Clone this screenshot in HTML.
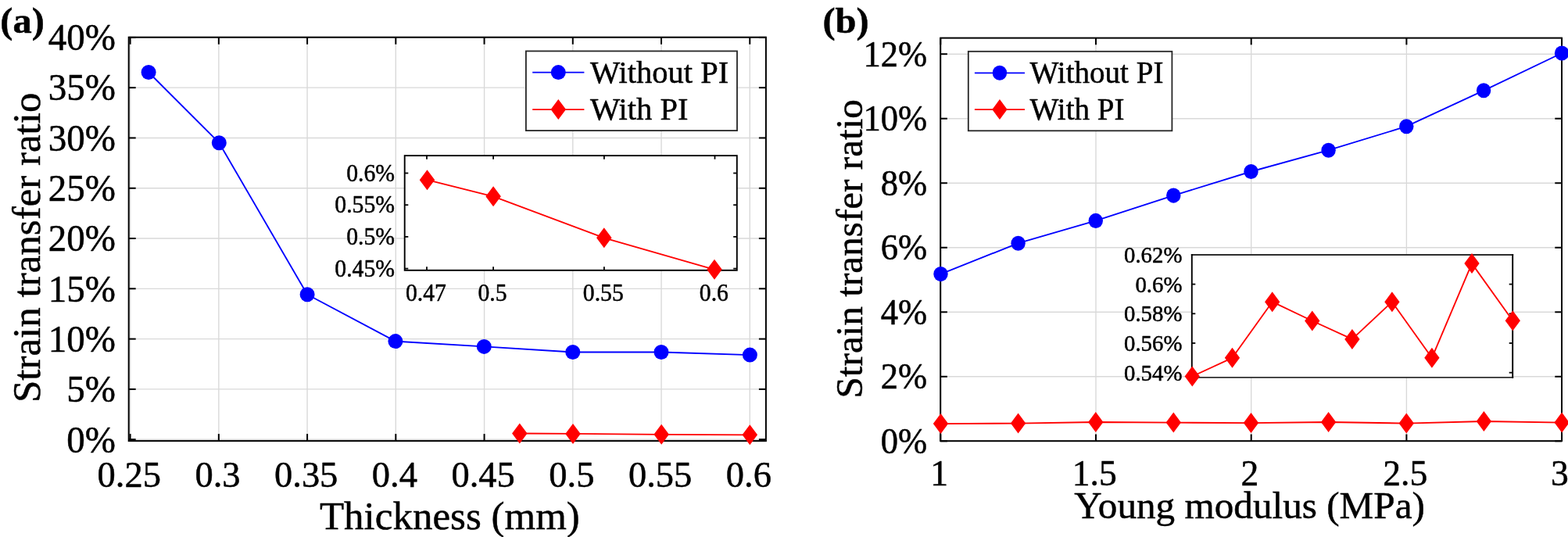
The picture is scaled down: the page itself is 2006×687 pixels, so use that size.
<!DOCTYPE html>
<html lang="en">
<head>
<meta charset="utf-8">
<title>Strain transfer ratio: thickness and Young modulus</title>
<style>
html, body { margin: 0; padding: 0; background: #ffffff; }
body { width: 2006px; height: 687px; overflow: hidden; }
svg { display: block; }
svg text { font-family: "Liberation Serif", "DejaVu Serif", serif; fill: #000000; stroke: #000000; stroke-width: 0.5px; stroke-linejoin: round; font-kerning: normal; }
</style>
</head>
<body>
<svg width="2006" height="687" viewBox="0 0 2006 687">
<rect x="0" y="0" width="2006" height="687" fill="#ffffff"/>
<g id="panel-a">
<g class="grid">
<line x1="166.6" y1="47.7" x2="166.6" y2="564.1" stroke="#d9d9d9" stroke-width="1.4"/>
<line x1="279.84" y1="47.7" x2="279.84" y2="564.1" stroke="#d9d9d9" stroke-width="1.4"/>
<line x1="393.08" y1="47.7" x2="393.08" y2="564.1" stroke="#d9d9d9" stroke-width="1.4"/>
<line x1="506.32" y1="47.7" x2="506.32" y2="564.1" stroke="#d9d9d9" stroke-width="1.4"/>
<line x1="619.56" y1="47.7" x2="619.56" y2="564.1" stroke="#d9d9d9" stroke-width="1.4"/>
<line x1="732.8" y1="47.7" x2="732.8" y2="564.1" stroke="#d9d9d9" stroke-width="1.4"/>
<line x1="846.04" y1="47.7" x2="846.04" y2="564.1" stroke="#d9d9d9" stroke-width="1.4"/>
<line x1="959.28" y1="47.7" x2="959.28" y2="564.1" stroke="#d9d9d9" stroke-width="1.4"/>
<line x1="164.7" y1="562.2" x2="979.9" y2="562.2" stroke="#d9d9d9" stroke-width="1.4"/>
<line x1="164.7" y1="497.91" x2="979.9" y2="497.91" stroke="#d9d9d9" stroke-width="1.4"/>
<line x1="164.7" y1="433.62" x2="979.9" y2="433.62" stroke="#d9d9d9" stroke-width="1.4"/>
<line x1="164.7" y1="369.33" x2="979.9" y2="369.33" stroke="#d9d9d9" stroke-width="1.4"/>
<line x1="164.7" y1="305.04" x2="979.9" y2="305.04" stroke="#d9d9d9" stroke-width="1.4"/>
<line x1="164.7" y1="240.75" x2="979.9" y2="240.75" stroke="#d9d9d9" stroke-width="1.4"/>
<line x1="164.7" y1="176.46" x2="979.9" y2="176.46" stroke="#d9d9d9" stroke-width="1.4"/>
<line x1="164.7" y1="112.17" x2="979.9" y2="112.17" stroke="#d9d9d9" stroke-width="1.4"/>
<line x1="164.7" y1="47.88" x2="979.9" y2="47.88" stroke="#d9d9d9" stroke-width="1.4"/>
</g>
<g class="ticks">
<line x1="166.6" y1="564.1" x2="166.6" y2="555.1" stroke="#000" stroke-width="2"/>
<line x1="166.6" y1="47.7" x2="166.6" y2="56.7" stroke="#000" stroke-width="2"/>
<line x1="279.84" y1="564.1" x2="279.84" y2="555.1" stroke="#000" stroke-width="2"/>
<line x1="279.84" y1="47.7" x2="279.84" y2="56.7" stroke="#000" stroke-width="2"/>
<line x1="393.08" y1="564.1" x2="393.08" y2="555.1" stroke="#000" stroke-width="2"/>
<line x1="393.08" y1="47.7" x2="393.08" y2="56.7" stroke="#000" stroke-width="2"/>
<line x1="506.32" y1="564.1" x2="506.32" y2="555.1" stroke="#000" stroke-width="2"/>
<line x1="506.32" y1="47.7" x2="506.32" y2="56.7" stroke="#000" stroke-width="2"/>
<line x1="619.56" y1="564.1" x2="619.56" y2="555.1" stroke="#000" stroke-width="2"/>
<line x1="619.56" y1="47.7" x2="619.56" y2="56.7" stroke="#000" stroke-width="2"/>
<line x1="732.8" y1="564.1" x2="732.8" y2="555.1" stroke="#000" stroke-width="2"/>
<line x1="732.8" y1="47.7" x2="732.8" y2="56.7" stroke="#000" stroke-width="2"/>
<line x1="846.04" y1="564.1" x2="846.04" y2="555.1" stroke="#000" stroke-width="2"/>
<line x1="846.04" y1="47.7" x2="846.04" y2="56.7" stroke="#000" stroke-width="2"/>
<line x1="959.28" y1="564.1" x2="959.28" y2="555.1" stroke="#000" stroke-width="2"/>
<line x1="959.28" y1="47.7" x2="959.28" y2="56.7" stroke="#000" stroke-width="2"/>
<line x1="164.7" y1="562.2" x2="173.7" y2="562.2" stroke="#000" stroke-width="2"/>
<line x1="979.9" y1="562.2" x2="970.9" y2="562.2" stroke="#000" stroke-width="2"/>
<line x1="164.7" y1="497.91" x2="173.7" y2="497.91" stroke="#000" stroke-width="2"/>
<line x1="979.9" y1="497.91" x2="970.9" y2="497.91" stroke="#000" stroke-width="2"/>
<line x1="164.7" y1="433.62" x2="173.7" y2="433.62" stroke="#000" stroke-width="2"/>
<line x1="979.9" y1="433.62" x2="970.9" y2="433.62" stroke="#000" stroke-width="2"/>
<line x1="164.7" y1="369.33" x2="173.7" y2="369.33" stroke="#000" stroke-width="2"/>
<line x1="979.9" y1="369.33" x2="970.9" y2="369.33" stroke="#000" stroke-width="2"/>
<line x1="164.7" y1="305.04" x2="173.7" y2="305.04" stroke="#000" stroke-width="2"/>
<line x1="979.9" y1="305.04" x2="970.9" y2="305.04" stroke="#000" stroke-width="2"/>
<line x1="164.7" y1="240.75" x2="173.7" y2="240.75" stroke="#000" stroke-width="2"/>
<line x1="979.9" y1="240.75" x2="970.9" y2="240.75" stroke="#000" stroke-width="2"/>
<line x1="164.7" y1="176.46" x2="173.7" y2="176.46" stroke="#000" stroke-width="2"/>
<line x1="979.9" y1="176.46" x2="970.9" y2="176.46" stroke="#000" stroke-width="2"/>
<line x1="164.7" y1="112.17" x2="173.7" y2="112.17" stroke="#000" stroke-width="2"/>
<line x1="979.9" y1="112.17" x2="970.9" y2="112.17" stroke="#000" stroke-width="2"/>
<line x1="164.7" y1="47.88" x2="173.7" y2="47.88" stroke="#000" stroke-width="2"/>
<line x1="979.9" y1="47.88" x2="970.9" y2="47.88" stroke="#000" stroke-width="2"/>
</g>
<rect x="164.7" y="47.7" width="815.2" height="516.4" fill="none" stroke="#000" stroke-width="2"/>
<g class="series">
<polyline points="190.1,92.5 280.3,182.7 393.1,376.7 505.9,436.6 619.3,443.4 732.8,450.5 846,450.5 959.4,454.1" fill="none" stroke="#0000ff" stroke-width="1.85" stroke-linejoin="round"/>
<ellipse cx="190.1" cy="92.5" rx="9.5" ry="9.5" fill="#0000ff"/>
<ellipse cx="280.3" cy="182.7" rx="9.5" ry="9.5" fill="#0000ff"/>
<ellipse cx="393.1" cy="376.7" rx="9.5" ry="9.5" fill="#0000ff"/>
<ellipse cx="505.9" cy="436.6" rx="9.5" ry="9.5" fill="#0000ff"/>
<ellipse cx="619.3" cy="443.4" rx="9.5" ry="9.5" fill="#0000ff"/>
<ellipse cx="732.8" cy="450.5" rx="9.5" ry="9.5" fill="#0000ff"/>
<ellipse cx="846" cy="450.5" rx="9.5" ry="9.5" fill="#0000ff"/>
<ellipse cx="959.4" cy="454.1" rx="9.5" ry="9.5" fill="#0000ff"/>
<polyline points="664.8,554.5 733,554.9 846.2,555.8 959.3,556.3" fill="none" stroke="#ff0000" stroke-width="1.85" stroke-linejoin="round"/>
<polygon points="664.8,541.5 674.55,554.5 664.8,567.5 655.05,554.5" fill="#ff0000"/>
<polygon points="733,541.9 742.75,554.9 733,567.9 723.25,554.9" fill="#ff0000"/>
<polygon points="846.2,542.8 855.95,555.8 846.2,568.8 836.45,555.8" fill="#ff0000"/>
<polygon points="959.3,543.3 969.05,556.3 959.3,569.3 949.55,556.3" fill="#ff0000"/>
</g>
<g class="ticklabels">
<text transform="translate(165.2 623) scale(1 1.02)" font-size="46.5" text-anchor="middle" font-weight="normal" stroke-width="0.49">0.25</text>
<text transform="translate(278.44 623) scale(1 1.02)" font-size="46.5" text-anchor="middle" font-weight="normal" stroke-width="0.49">0.3</text>
<text transform="translate(391.68 623) scale(1 1.02)" font-size="46.5" text-anchor="middle" font-weight="normal" stroke-width="0.49">0.35</text>
<text transform="translate(504.92 623) scale(1 1.02)" font-size="46.5" text-anchor="middle" font-weight="normal" stroke-width="0.49">0.4</text>
<text transform="translate(618.16 623) scale(1 1.02)" font-size="46.5" text-anchor="middle" font-weight="normal" stroke-width="0.49">0.45</text>
<text transform="translate(731.4 623) scale(1 1.02)" font-size="46.5" text-anchor="middle" font-weight="normal" stroke-width="0.49">0.5</text>
<text transform="translate(844.64 623) scale(1 1.02)" font-size="46.5" text-anchor="middle" font-weight="normal" stroke-width="0.49">0.55</text>
<text transform="translate(957.88 623) scale(1 1.02)" font-size="46.5" text-anchor="middle" font-weight="normal" stroke-width="0.49">0.6</text>
<text transform="translate(148 578.7) scale(1 1.03)" font-size="47" text-anchor="end" font-weight="normal" stroke-width="0.49">0%</text>
<text transform="translate(148 514.35) scale(1 1.03)" font-size="47" text-anchor="end" font-weight="normal" stroke-width="0.49">5%</text>
<text transform="translate(148 450) scale(1 1.03)" font-size="47" text-anchor="end" font-weight="normal" stroke-width="0.49">10%</text>
<text transform="translate(148 385.64) scale(1 1.03)" font-size="47" text-anchor="end" font-weight="normal" stroke-width="0.49">15%</text>
<text transform="translate(148 321.29) scale(1 1.03)" font-size="47" text-anchor="end" font-weight="normal" stroke-width="0.49">20%</text>
<text transform="translate(148 256.94) scale(1 1.03)" font-size="47" text-anchor="end" font-weight="normal" stroke-width="0.49">25%</text>
<text transform="translate(148 192.59) scale(1 1.03)" font-size="47" text-anchor="end" font-weight="normal" stroke-width="0.49">30%</text>
<text transform="translate(148 128.23) scale(1 1.03)" font-size="47" text-anchor="end" font-weight="normal" stroke-width="0.49">35%</text>
<text transform="translate(148 63.88) scale(1 1.03)" font-size="47" text-anchor="end" font-weight="normal" stroke-width="0.49">40%</text>
</g>
<text x="575.4" y="676.5" font-size="51" text-anchor="middle" font-weight="normal" stroke-width="0.54">Thickness (mm)</text>
<text x="0" y="0" font-size="51" text-anchor="middle" font-weight="normal" stroke-width="0.54" transform="translate(50.8 316.8) rotate(-90)">Strain transfer ratio</text>
<text transform="translate(0.3 42.3) scale(1 0.95)" font-size="48.5" text-anchor="start" font-weight="bold" stroke-width="0.51">(a)</text>
<g class="legend">
<rect x="672.9" y="65.4" width="270.1" height="101.7" fill="#fff" stroke="#262626" stroke-width="1.8"/>
<line x1="681.2" y1="92.6" x2="747.4" y2="92.6" stroke="#0000ff" stroke-width="1.85"/>
<ellipse cx="714.3" cy="92.6" rx="9.5" ry="9.5" fill="#0000ff"/>
<line x1="681.2" y1="140.1" x2="747.4" y2="140.1" stroke="#ff0000" stroke-width="1.85"/>
<polygon points="714.3,127.1 724.05,140.1 714.3,153.1 704.55,140.1" fill="#ff0000"/>
<text x="755" y="106" font-size="40.5" text-anchor="start" font-weight="normal" stroke-width="0.43">Without PI</text>
<text x="755" y="153.4" font-size="40.5" text-anchor="start" font-weight="normal" stroke-width="0.43">With PI</text>
</g>
<g class="inset">
<rect x="517.7" y="199.1" width="425.1" height="146.7" fill="#fff" stroke="none"/>
<line x1="546" y1="345.8" x2="546" y2="341.2" stroke="#000" stroke-width="1.8"/>
<line x1="546" y1="199.1" x2="546" y2="203.7" stroke="#000" stroke-width="1.8"/>
<line x1="631.1" y1="345.8" x2="631.1" y2="341.2" stroke="#000" stroke-width="1.8"/>
<line x1="631.1" y1="199.1" x2="631.1" y2="203.7" stroke="#000" stroke-width="1.8"/>
<line x1="772.9" y1="345.8" x2="772.9" y2="341.2" stroke="#000" stroke-width="1.8"/>
<line x1="772.9" y1="199.1" x2="772.9" y2="203.7" stroke="#000" stroke-width="1.8"/>
<line x1="914.5" y1="345.8" x2="914.5" y2="341.2" stroke="#000" stroke-width="1.8"/>
<line x1="914.5" y1="199.1" x2="914.5" y2="203.7" stroke="#000" stroke-width="1.8"/>
<line x1="517.7" y1="343.6" x2="522.3" y2="343.6" stroke="#000" stroke-width="1.8"/>
<line x1="942.8" y1="343.6" x2="938.2" y2="343.6" stroke="#000" stroke-width="1.8"/>
<line x1="517.7" y1="302.9" x2="522.3" y2="302.9" stroke="#000" stroke-width="1.8"/>
<line x1="942.8" y1="302.9" x2="938.2" y2="302.9" stroke="#000" stroke-width="1.8"/>
<line x1="517.7" y1="262.2" x2="522.3" y2="262.2" stroke="#000" stroke-width="1.8"/>
<line x1="942.8" y1="262.2" x2="938.2" y2="262.2" stroke="#000" stroke-width="1.8"/>
<line x1="517.7" y1="221.5" x2="522.3" y2="221.5" stroke="#000" stroke-width="1.8"/>
<line x1="942.8" y1="221.5" x2="938.2" y2="221.5" stroke="#000" stroke-width="1.8"/>
<rect x="517.7" y="199.1" width="425.1" height="146.7" fill="none" stroke="#000" stroke-width="1.9"/>
<polyline points="546.5,230.2 631.1,251.3 772.8,304.3 914,344.8" fill="none" stroke="#ff0000" stroke-width="1.85" stroke-linejoin="round"/>
<polygon points="546.5,217.2 556.25,230.2 546.5,243.2 536.75,230.2" fill="#ff0000"/>
<polygon points="631.1,238.3 640.85,251.3 631.1,264.3 621.35,251.3" fill="#ff0000"/>
<polygon points="772.8,291.3 782.55,304.3 772.8,317.3 763.05,304.3" fill="#ff0000"/>
<polygon points="914,331.8 923.75,344.8 914,357.8 904.25,344.8" fill="#ff0000"/>
<text transform="translate(544.9 384.9) scale(1 1.05)" font-size="29.7" text-anchor="middle" font-weight="normal" stroke-width="0.18">0.47</text>
<text transform="translate(630 384.9) scale(1 1.05)" font-size="29.7" text-anchor="middle" font-weight="normal" stroke-width="0.18">0.5</text>
<text transform="translate(771.8 384.9) scale(1 1.05)" font-size="29.7" text-anchor="middle" font-weight="normal" stroke-width="0.18">0.55</text>
<text transform="translate(913.4 384.9) scale(1 1.05)" font-size="29.7" text-anchor="middle" font-weight="normal" stroke-width="0.18">0.6</text>
<text transform="translate(505 353.7) scale(1 1.05)" font-size="29.7" text-anchor="end" font-weight="normal" stroke-width="0.18">0.45%</text>
<text transform="translate(505 313) scale(1 1.05)" font-size="29.7" text-anchor="end" font-weight="normal" stroke-width="0.18">0.5%</text>
<text transform="translate(505 272.3) scale(1 1.05)" font-size="29.7" text-anchor="end" font-weight="normal" stroke-width="0.18">0.55%</text>
<text transform="translate(505 231.6) scale(1 1.05)" font-size="29.7" text-anchor="end" font-weight="normal" stroke-width="0.18">0.6%</text>
</g>
</g>
<g id="panel-b">
<g class="grid">
<line x1="1203.3" y1="48.6" x2="1203.3" y2="564.2" stroke="#d9d9d9" stroke-width="1.4"/>
<line x1="1402" y1="48.6" x2="1402" y2="564.2" stroke="#d9d9d9" stroke-width="1.4"/>
<line x1="1600.7" y1="48.6" x2="1600.7" y2="564.2" stroke="#d9d9d9" stroke-width="1.4"/>
<line x1="1799.4" y1="48.6" x2="1799.4" y2="564.2" stroke="#d9d9d9" stroke-width="1.4"/>
<line x1="1998.1" y1="48.6" x2="1998.1" y2="564.2" stroke="#d9d9d9" stroke-width="1.4"/>
<line x1="1203.2" y1="564.3" x2="1998" y2="564.3" stroke="#d9d9d9" stroke-width="1.4"/>
<line x1="1203.2" y1="481.78" x2="1998" y2="481.78" stroke="#d9d9d9" stroke-width="1.4"/>
<line x1="1203.2" y1="399.26" x2="1998" y2="399.26" stroke="#d9d9d9" stroke-width="1.4"/>
<line x1="1203.2" y1="316.74" x2="1998" y2="316.74" stroke="#d9d9d9" stroke-width="1.4"/>
<line x1="1203.2" y1="234.22" x2="1998" y2="234.22" stroke="#d9d9d9" stroke-width="1.4"/>
<line x1="1203.2" y1="151.7" x2="1998" y2="151.7" stroke="#d9d9d9" stroke-width="1.4"/>
<line x1="1203.2" y1="69.18" x2="1998" y2="69.18" stroke="#d9d9d9" stroke-width="1.4"/>
</g>
<g class="ticks">
<line x1="1203.3" y1="564.2" x2="1203.3" y2="555.5" stroke="#000" stroke-width="2"/>
<line x1="1203.3" y1="48.6" x2="1203.3" y2="57.3" stroke="#000" stroke-width="2"/>
<line x1="1402" y1="564.2" x2="1402" y2="555.5" stroke="#000" stroke-width="2"/>
<line x1="1402" y1="48.6" x2="1402" y2="57.3" stroke="#000" stroke-width="2"/>
<line x1="1600.7" y1="564.2" x2="1600.7" y2="555.5" stroke="#000" stroke-width="2"/>
<line x1="1600.7" y1="48.6" x2="1600.7" y2="57.3" stroke="#000" stroke-width="2"/>
<line x1="1799.4" y1="564.2" x2="1799.4" y2="555.5" stroke="#000" stroke-width="2"/>
<line x1="1799.4" y1="48.6" x2="1799.4" y2="57.3" stroke="#000" stroke-width="2"/>
<line x1="1998.1" y1="564.2" x2="1998.1" y2="555.5" stroke="#000" stroke-width="2"/>
<line x1="1998.1" y1="48.6" x2="1998.1" y2="57.3" stroke="#000" stroke-width="2"/>
<line x1="1203.2" y1="564.3" x2="1211.9" y2="564.3" stroke="#000" stroke-width="2"/>
<line x1="1998" y1="564.3" x2="1989.3" y2="564.3" stroke="#000" stroke-width="2"/>
<line x1="1203.2" y1="481.78" x2="1211.9" y2="481.78" stroke="#000" stroke-width="2"/>
<line x1="1998" y1="481.78" x2="1989.3" y2="481.78" stroke="#000" stroke-width="2"/>
<line x1="1203.2" y1="399.26" x2="1211.9" y2="399.26" stroke="#000" stroke-width="2"/>
<line x1="1998" y1="399.26" x2="1989.3" y2="399.26" stroke="#000" stroke-width="2"/>
<line x1="1203.2" y1="316.74" x2="1211.9" y2="316.74" stroke="#000" stroke-width="2"/>
<line x1="1998" y1="316.74" x2="1989.3" y2="316.74" stroke="#000" stroke-width="2"/>
<line x1="1203.2" y1="234.22" x2="1211.9" y2="234.22" stroke="#000" stroke-width="2"/>
<line x1="1998" y1="234.22" x2="1989.3" y2="234.22" stroke="#000" stroke-width="2"/>
<line x1="1203.2" y1="151.7" x2="1211.9" y2="151.7" stroke="#000" stroke-width="2"/>
<line x1="1998" y1="151.7" x2="1989.3" y2="151.7" stroke="#000" stroke-width="2"/>
<line x1="1203.2" y1="69.18" x2="1211.9" y2="69.18" stroke="#000" stroke-width="2"/>
<line x1="1998" y1="69.18" x2="1989.3" y2="69.18" stroke="#000" stroke-width="2"/>
</g>
<rect x="1203.2" y="48.6" width="794.8" height="515.6" fill="none" stroke="#000" stroke-width="2"/>
<g class="series">
<polyline points="1203.5,350.6 1302.6,311.2 1401.8,282.4 1501.3,250.1 1600.5,219.5 1699.6,192.2 1799.3,161.7 1898.1,115.8 1998.1,68" fill="none" stroke="#0000ff" stroke-width="1.85" stroke-linejoin="round"/>
<ellipse cx="1203.5" cy="350.6" rx="9.2" ry="9.55" fill="#0000ff"/>
<ellipse cx="1302.6" cy="311.2" rx="9.2" ry="9.55" fill="#0000ff"/>
<ellipse cx="1401.8" cy="282.4" rx="9.2" ry="9.55" fill="#0000ff"/>
<ellipse cx="1501.3" cy="250.1" rx="9.2" ry="9.55" fill="#0000ff"/>
<ellipse cx="1600.5" cy="219.5" rx="9.2" ry="9.55" fill="#0000ff"/>
<ellipse cx="1699.6" cy="192.2" rx="9.2" ry="9.55" fill="#0000ff"/>
<ellipse cx="1799.3" cy="161.7" rx="9.2" ry="9.55" fill="#0000ff"/>
<ellipse cx="1898.1" cy="115.8" rx="9.2" ry="9.55" fill="#0000ff"/>
<ellipse cx="1998.1" cy="68" rx="9.2" ry="9.55" fill="#0000ff"/>
<polyline points="1203.5,542.1 1302.6,541.6 1401.8,540 1501.3,540.6 1600.5,541.1 1699.6,540 1799.3,541.6 1898.4,539 1998.1,540.6" fill="none" stroke="#ff0000" stroke-width="1.85" stroke-linejoin="round"/>
<polygon points="1203.5,529.1 1213.15,542.1 1203.5,555.1 1193.85,542.1" fill="#ff0000"/>
<polygon points="1302.6,528.6 1312.25,541.6 1302.6,554.6 1292.95,541.6" fill="#ff0000"/>
<polygon points="1401.8,527 1411.45,540 1401.8,553 1392.15,540" fill="#ff0000"/>
<polygon points="1501.3,527.6 1510.95,540.6 1501.3,553.6 1491.65,540.6" fill="#ff0000"/>
<polygon points="1600.5,528.1 1610.15,541.1 1600.5,554.1 1590.85,541.1" fill="#ff0000"/>
<polygon points="1699.6,527 1709.25,540 1699.6,553 1689.95,540" fill="#ff0000"/>
<polygon points="1799.3,528.6 1808.95,541.6 1799.3,554.6 1789.65,541.6" fill="#ff0000"/>
<polygon points="1898.4,526 1908.05,539 1898.4,552 1888.75,539" fill="#ff0000"/>
<polygon points="1998.1,527.6 2007.75,540.6 1998.1,553.6 1988.45,540.6" fill="#ff0000"/>
</g>
<g class="ticklabels">
<text transform="translate(1201.6 620.8) scale(1 1.02)" font-size="45.6" text-anchor="middle" font-weight="normal" stroke-width="0.48">1</text>
<text transform="translate(1400.3 620.8) scale(1 1.02)" font-size="45.6" text-anchor="middle" font-weight="normal" stroke-width="0.48">1.5</text>
<text transform="translate(1599 620.8) scale(1 1.02)" font-size="45.6" text-anchor="middle" font-weight="normal" stroke-width="0.48">2</text>
<text transform="translate(1797.7 620.8) scale(1 1.02)" font-size="45.6" text-anchor="middle" font-weight="normal" stroke-width="0.48">2.5</text>
<text transform="translate(1995.5 620.8) scale(1 1.02)" font-size="45.6" text-anchor="middle" font-weight="normal" stroke-width="0.48">3</text>
<text transform="translate(1186.2 579.9) scale(1 1.055)" font-size="44.6" text-anchor="end" font-weight="normal" stroke-width="0.47">0%</text>
<text transform="translate(1186.2 497.38) scale(1 1.055)" font-size="44.6" text-anchor="end" font-weight="normal" stroke-width="0.47">2%</text>
<text transform="translate(1186.2 414.86) scale(1 1.055)" font-size="44.6" text-anchor="end" font-weight="normal" stroke-width="0.47">4%</text>
<text transform="translate(1186.2 332.34) scale(1 1.055)" font-size="44.6" text-anchor="end" font-weight="normal" stroke-width="0.47">6%</text>
<text transform="translate(1186.2 249.82) scale(1 1.055)" font-size="44.6" text-anchor="end" font-weight="normal" stroke-width="0.47">8%</text>
<text transform="translate(1186.2 167.3) scale(1 1.055)" font-size="44.6" text-anchor="end" font-weight="normal" stroke-width="0.47">10%</text>
<text transform="translate(1186.2 84.78) scale(1 1.055)" font-size="44.6" text-anchor="end" font-weight="normal" stroke-width="0.47">12%</text>
</g>
<text x="1598.6" y="663.4" font-size="49.2" text-anchor="middle" font-weight="normal" stroke-width="0.52">Young modulus (MPa)</text>
<text x="0" y="0" font-size="49.2" text-anchor="middle" font-weight="normal" stroke-width="0.52" transform="translate(1102.9 318.3) rotate(-90)">Strain transfer ratio</text>
<text transform="translate(1052.4 42.3) scale(1 0.95)" font-size="48.5" text-anchor="start" font-weight="bold" stroke-width="0.51">(b)</text>
<g class="legend">
<rect x="1238.8" y="65.8" width="260.6" height="101.5" fill="#fff" stroke="#262626" stroke-width="1.8"/>
<line x1="1246.9" y1="93.3" x2="1311" y2="93.3" stroke="#0000ff" stroke-width="1.85"/>
<ellipse cx="1278.95" cy="93.3" rx="9.2" ry="9.55" fill="#0000ff"/>
<line x1="1246.9" y1="140.1" x2="1311" y2="140.1" stroke="#ff0000" stroke-width="1.85"/>
<polygon points="1278.95,127.1 1288.6,140.1 1278.95,153.1 1269.3,140.1" fill="#ff0000"/>
<text x="1317.5" y="106.1" font-size="39.05" text-anchor="start" font-weight="normal" stroke-width="0.41">Without PI</text>
<text x="1317.5" y="152.6" font-size="39.05" text-anchor="start" font-weight="normal" stroke-width="0.41">With PI</text>
</g>
<g class="inset">
<rect x="1524.8" y="326" width="410.4" height="156.9" fill="#fff" stroke="none"/>
<line x1="1524.8" y1="476.7" x2="1529.3" y2="476.7" stroke="#000" stroke-width="1.8"/>
<line x1="1935.2" y1="476.7" x2="1930.7" y2="476.7" stroke="#000" stroke-width="1.8"/>
<line x1="1524.8" y1="439" x2="1529.3" y2="439" stroke="#000" stroke-width="1.8"/>
<line x1="1935.2" y1="439" x2="1930.7" y2="439" stroke="#000" stroke-width="1.8"/>
<line x1="1524.8" y1="401.3" x2="1529.3" y2="401.3" stroke="#000" stroke-width="1.8"/>
<line x1="1935.2" y1="401.3" x2="1930.7" y2="401.3" stroke="#000" stroke-width="1.8"/>
<line x1="1524.8" y1="363.6" x2="1529.3" y2="363.6" stroke="#000" stroke-width="1.8"/>
<line x1="1935.2" y1="363.6" x2="1930.7" y2="363.6" stroke="#000" stroke-width="1.8"/>
<line x1="1524.8" y1="325.9" x2="1529.3" y2="325.9" stroke="#000" stroke-width="1.8"/>
<line x1="1935.2" y1="325.9" x2="1930.7" y2="325.9" stroke="#000" stroke-width="1.8"/>
<line x1="1523.85" y1="326" x2="1936.15" y2="326" stroke="#2e2e2e" stroke-width="1.9"/>
<line x1="1523.85" y1="482.9" x2="1936.15" y2="482.9" stroke="#2e2e2e" stroke-width="1.9"/>
<line x1="1524.8" y1="325.05" x2="1524.8" y2="483.85" stroke="#000" stroke-width="1.9"/>
<line x1="1935.2" y1="325.05" x2="1935.2" y2="483.85" stroke="#000" stroke-width="1.9"/>
<polyline points="1525.3,481.5 1576.5,457.8 1627.7,386.2 1678.8,410.5 1729.9,433.9 1780.9,386.2 1831.9,457.8 1883,337.1 1935.3,410.2" fill="none" stroke="#ff0000" stroke-width="1.85" stroke-linejoin="round"/>
<polygon points="1525.3,468.5 1534.95,481.5 1525.3,494.5 1515.65,481.5" fill="#ff0000"/>
<polygon points="1576.5,444.8 1586.15,457.8 1576.5,470.8 1566.85,457.8" fill="#ff0000"/>
<polygon points="1627.7,373.2 1637.35,386.2 1627.7,399.2 1618.05,386.2" fill="#ff0000"/>
<polygon points="1678.8,397.5 1688.45,410.5 1678.8,423.5 1669.15,410.5" fill="#ff0000"/>
<polygon points="1729.9,420.9 1739.55,433.9 1729.9,446.9 1720.25,433.9" fill="#ff0000"/>
<polygon points="1780.9,373.2 1790.55,386.2 1780.9,399.2 1771.25,386.2" fill="#ff0000"/>
<polygon points="1831.9,444.8 1841.55,457.8 1831.9,470.8 1822.25,457.8" fill="#ff0000"/>
<polygon points="1883,324.1 1892.65,337.1 1883,350.1 1873.35,337.1" fill="#ff0000"/>
<polygon points="1935.3,397.2 1944.95,410.2 1935.3,423.2 1925.65,410.2" fill="#ff0000"/>
<text x="1512.4" y="486.8" font-size="28.8" text-anchor="end" font-weight="normal" stroke-width="0.17">0.54%</text>
<text x="1512.4" y="449.1" font-size="28.8" text-anchor="end" font-weight="normal" stroke-width="0.17">0.56%</text>
<text x="1512.4" y="411.4" font-size="28.8" text-anchor="end" font-weight="normal" stroke-width="0.17">0.58%</text>
<text x="1512.4" y="373.7" font-size="28.8" text-anchor="end" font-weight="normal" stroke-width="0.17">0.6%</text>
<text x="1512.4" y="336" font-size="28.8" text-anchor="end" font-weight="normal" stroke-width="0.17">0.62%</text>
</g>
</g>
</svg>
</body>
</html>
